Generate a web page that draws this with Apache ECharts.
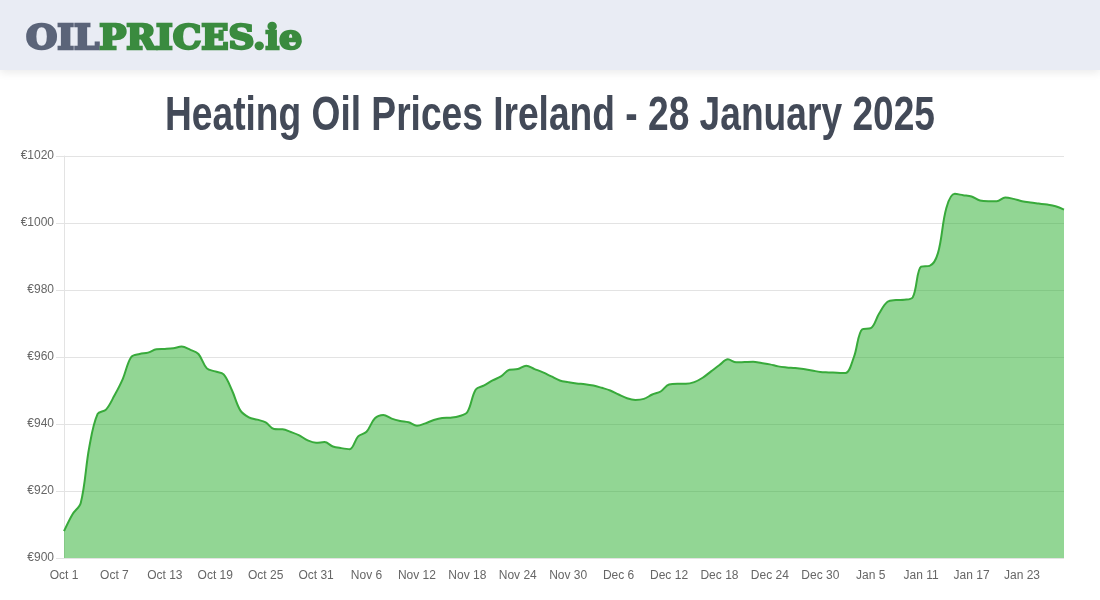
<!DOCTYPE html>
<html>
<head>
<meta charset="utf-8">
<script src="https://cdn.jsdelivr.net/npm/echarts@6/dist/echarts.min.js"></script>
<style>
html,body{margin:0;padding:0;background:#fff;}
#chart{width:1100px;height:600px;}
</style>
</head>
<body>
<div id="chart"></div>
<script>
// ---- data ----
const titleText = 'Heating Oil Prices Ireland - 28 January 2025';
const logoParts = ['OIL', 'PRICES.ie'];
const months = ['Oct', 'Nov', 'Dec', 'Jan'];
const monthDays = [31, 30, 31, 28];
const prices = [
  908, 913, 916.5, 933, 943, 944.3, 948.5, 953.5, 960, 960.9,
  961.3, 962.3, 962.4, 962.6, 963.1, 962.2, 960.9, 956.6, 955.7, 954.8,
  950, 944, 942, 941.3, 940.5, 938.5, 938.4, 937.6, 936.6, 935.1,
  934.4, 934.6, 933.3, 932.8, 932.5, 936.3, 937.7, 941.7, 942.7, 941.6,
  940.9, 940.5, 939.5, 940.2, 941.2, 941.8, 941.9, 942.3, 943.6, 950.3,
  951.5, 953, 954.2, 956.2, 956.4, 957.4, 956.4, 955.4, 954.2, 953,
  952.5, 952.1, 951.9, 951.5, 950.8, 950, 948.8, 947.7, 947.2, 947.5,
  948.8, 949.7, 951.8, 952, 952, 952.5, 953.8, 955.7, 957.6, 959.3,
  958.4, 958.5, 958.6, 958.2, 957.8, 957.2, 956.9, 956.7, 956.4, 956,
  955.5, 955.4, 955.3, 955.2, 960, 968.3, 968.6, 973, 976.5, 977,
  977.1, 977.8, 987, 987.2, 991, 1004.5, 1008.7, 1008.3, 1007.9, 1006.7,
  1006.5, 1006.5, 1007.6, 1007.2, 1006.5, 1006.1, 1005.8, 1005.5, 1005, 1004
];
const yMin = 900, yMax = 1020, yStep = 20;

// category labels (dates)
const categories = [];
months.forEach((m, i) => { for (let d = 1; d <= monthDays[i]; d++) categories.push(m + ' ' + d); });

// ---- helpers ----
const ctx = document.createElement('canvas').getContext('2d');
function measure(text, font) { ctx.font = font; return ctx.measureText(text).width; }

const titleFont = 'bold 49px "Liberation Sans"';
const titleScale = 770 / measure(titleText, titleFont);
const logoFont = 'bold 33px "DejaVu Serif"';
const logoScale = 276 / measure(logoParts.join(''), logoFont);
const oilW = measure(logoParts[0], logoFont) * logoScale;

const chart = echarts.init(document.getElementById('chart'), null, {renderer: 'canvas'});
chart.setOption({
  animation: false,
  graphic: [
    {type: 'rect', z: -10, shape: {x: 0, y: 0, width: 1100, height: 70},
     style: {fill: '#e9ecf4', shadowBlur: 8, shadowColor: 'rgba(0,0,0,0.08)', shadowOffsetY: 3}},
    {type: 'text', x: 26, y: 40, scaleX: logoScale,
     style: {text: logoParts[0], font: logoFont, fill: '#5b6479', stroke: '#5b6479', lineWidth: 2.5,
       align: 'left', verticalAlign: 'middle'}},
    {type: 'text', x: 26 + oilW, y: 40, scaleX: logoScale,
     style: {text: logoParts[1], font: logoFont, fill: '#3a8b3f', stroke: '#3a8b3f', lineWidth: 2.5,
       align: 'left', verticalAlign: 'middle'}},
    {type: 'text', x: 550, y: 116, scaleX: titleScale,
     style: {text: titleText, font: titleFont, fill: '#434a58', align: 'center', verticalAlign: 'middle'}}
  ],
  grid: {left: 64, right: 36, top: 156, bottom: 42, containLabel: false},
  xAxis: {
    type: 'category', data: categories, boundaryGap: false,
    axisLine: {show: false},
    axisTick: {show: false},
    splitLine: {show: false},
    axisLabel: {interval: 5, color: '#666', fontSize: 12, fontFamily: 'Liberation Sans', margin: 12}
  },
  yAxis: {
    type: 'value', min: yMin, max: yMax, interval: yStep,
    axisLine: {show: true, lineStyle: {color: '#e3e3e3', width: 1}},
    axisTick: {show: true, length: 8, lineStyle: {color: '#e3e3e3'}},
    splitLine: {show: true, lineStyle: {color: '#e3e3e3', width: 1}},
    axisLabel: {color: '#666', fontSize: 12, fontFamily: 'Liberation Sans', margin: 10,
      formatter: v => '€' + v}
  },
  series: [{
    type: 'line', data: prices, smooth: 0.35, symbol: 'none',
    lineStyle: {color: '#38aa3b', width: 2},
    areaStyle: {color: 'rgba(37,173,41,0.5)', opacity: 1, origin: 'start'}
  }]
});
</script>
</body>
</html>
